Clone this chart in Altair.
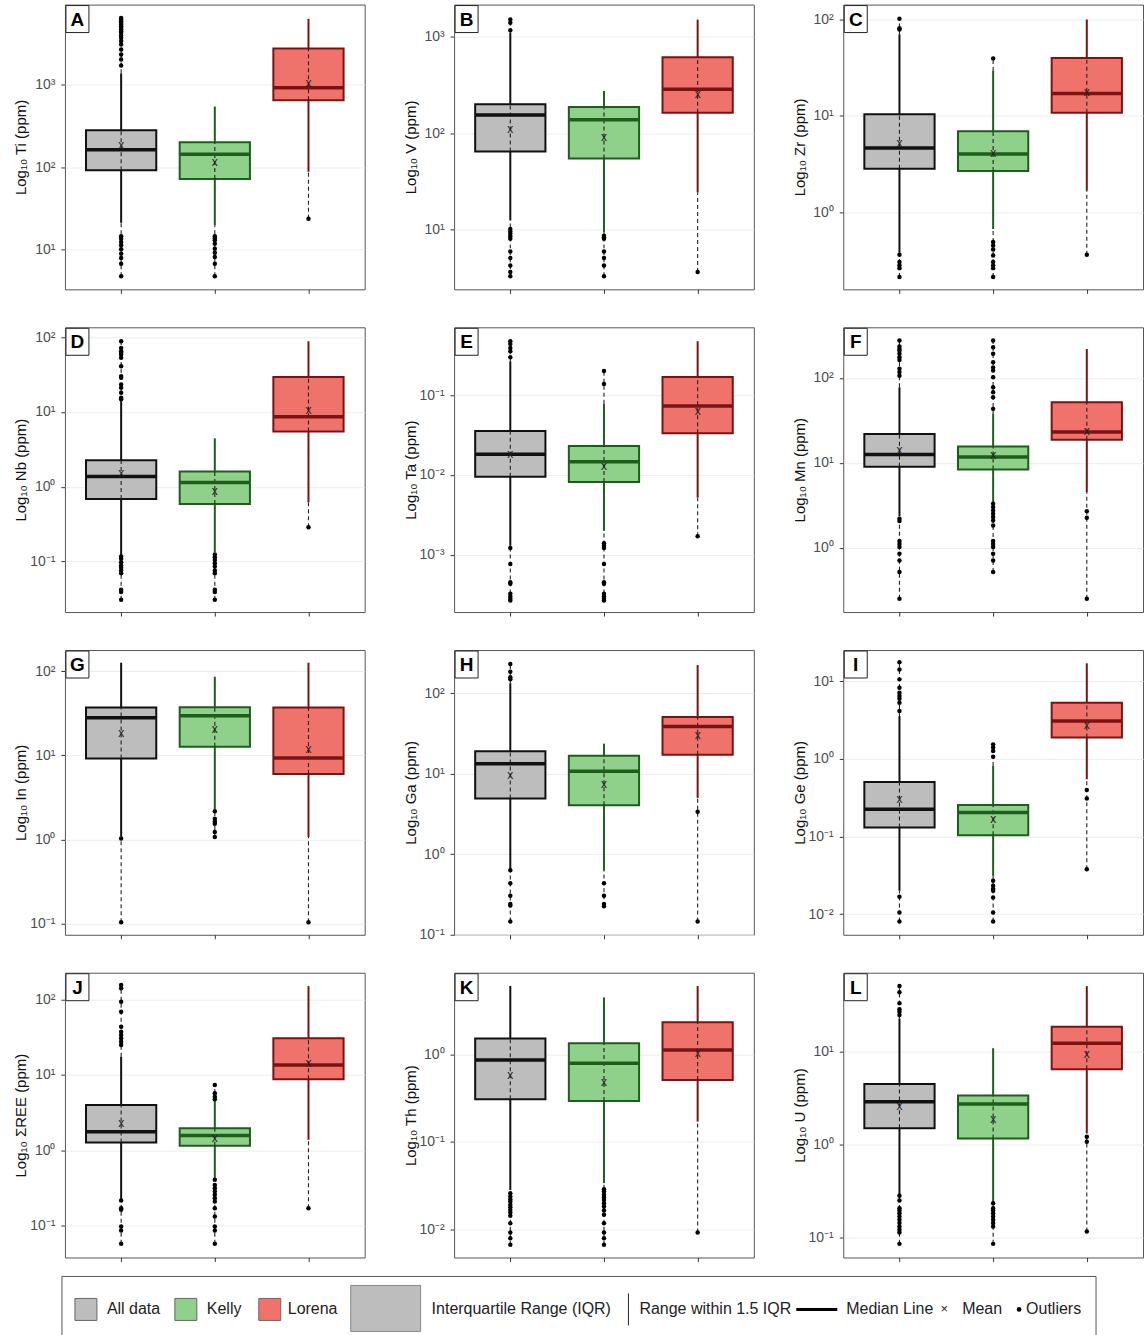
import math

import altair as alt
import pandas as pd

FONT = "Liberation Sans"

PANELS = list("ABCDEFGHIJKL")
ELEMENTS = ["Ti", "V", "Zr", "Nb", "Ta", "Mn", "In", "Ga", "Ge", "ΣREE", "Th", "U"]
GROUPS = ["All data", "Kelly", "Lorena"]

# y-axis extent of each panel, as log10 exponents (bottom, top)
Y_RANGE = [
    (0.52, 3.97), (0.384, 3.334), (-0.8, 2.155),
    (-1.676, 2.133), (-3.715, -0.152), (-0.757, 2.596),
    (-1.131, 2.25), (-1.003, 2.537), (-2.266, 1.399),
    (-1.419, 2.353), (-2.324, 0.933), (-1.219, 1.851),
]

# box statistics (ppm), one row per panel: [All data, Kelly, Lorena]
Q1 = [
    [91.6, 72, 647], [64.9, 55, 163], [2.83, 2.68, 10.8],
    [0.686, 0.587, 5.47], [0.0095, 0.0082, 0.0333], [8.98, 8.36, 18.7],
    [9.16, 12.6, 6.01], [4.92, 4.06, 17.2], [0.13, 0.1035, 1.87],
    [1.27, 1.15, 8.73], [0.306, 0.293, 0.509], [1.49, 1.16, 6.45],
]
MEDIAN = [
    [163, 143, 920], [155, 138, 286], [4.63, 4.01, 17.1],
    [1.37, 1.14, 8.67], [0.0182, 0.0146, 0.073], [12.5, 11.7, 23],
    [27.9, 29.5, 9.3], [13.3, 10.7, 38.6], [0.224, 0.203, 3.06],
    [1.77, 1.57, 13.5], [0.861, 0.789, 1.12], [2.89, 2.73, 12.3],
]
Q3 = [
    [281, 200, 2750], [200, 188, 616], [10.4, 6.93, 39.8],
    [2.27, 1.6, 29.3], [0.0356, 0.0231, 0.168], [21.9, 15.6, 51.8],
    [37, 37.3, 37], [19, 16.7, 50.5], [0.502, 0.254, 5.26],
    [4.0, 1.96, 30.5], [1.52, 1.34, 2.32], [4.49, 3.36, 18.6],
]
WHISKER_LOW = [
    [21.2, 19.7, 88], [12.5, 9.5, 24.5], [0.38, 0.67, 1.67],
    [0.12, 0.133, 0.618], [0.0013, 0.002, 0.0052], [2.35, 3.44, 4.52],
    [1.1, 2.3, 1.07], [0.65, 0.62, 5.0], [0.02, 0.031, 0.544],
    [0.225, 0.43, 1.38], [0.028, 0.0336, 0.17], [0.286, 0.242, 1.32],
]
WHISKER_HIGH = [
    [1370, 542, 6270], [1100, 275, 1510], [70, 29.3, 100],
    [14, 4.45, 88.4], [0.265, 0.078, 0.472], [77.6, 37.7, 219],
    [125.7, 85.6, 125.7], [133, 23.6, 224], [3.55, 0.807, 16.9],
    [17.4, 4.65, 150], [6.04, 4.48, 6.04], [22.8, 10.9, 50.9],
]
MEAN = [
    [185, 116, 1057], [110, 90.6, 258], [5.2, 4.07, 17.8],
    [1.51, 0.885, 10.6], [0.0182, 0.013, 0.064], [14, 12.4, 24],
    [18.5, 20.8, 12], [9.75, 7.33, 29.9], [0.301, 0.166, 2.69],
    [2.33, 1.45, 14.2], [0.581, 0.487, 1.03], [2.6, 1.87, 9.44],
]

# outliers (ppm) per panel
OUTLIERS_ALL = [
    [6440, 6150, 5880, 5600, 5350, 5100, 4870, 4650, 4440, 4250, 3940, 3690, 3370,
     3070, 2670, 2320, 2020, 1710, 14.6, 13.6, 12.4, 11.3, 10.1, 8.95, 7.93, 6.78, 4.77],
    [1172, 1396, 1511, 10.2, 9.6, 9.1, 8.6, 8.1, 5.97, 5.1, 4.28, 3.66, 3.3],
    [78.9, 81.1, 101.6, 0.362, 0.304, 0.281, 0.263, 0.213],
    [88.4, 72, 65, 61.8, 58.7, 53, 41, 30.2, 28.7, 23.4, 21.1, 18.1, 15.5, 14.8,
     0.117, 0.109, 0.098, 0.0885, 0.0824, 0.0759, 0.0699, 0.0419, 0.039, 0.0308],
    [0.298, 0.354, 0.389, 0.437, 0.472, 0.00122, 0.00077, 0.000456, 0.000435,
     0.000326, 0.000302, 0.000283, 0.000269],
    [275, 234, 219, 210, 192, 175, 163, 128, 117, 106, 2.19, 2.06, 1.2, 1.11, 1.02,
     0.85, 0.71, 0.518, 0.251],
    [1.03, 0.104],
    [149, 158, 185, 231, 0.63, 0.435, 0.303, 0.239, 0.229, 0.145],
    [4.11, 5.26, 5.93, 6.41, 7.08, 8.2, 10.5, 14.1, 17.5, 0.0167, 0.0105, 0.00803],
    [24.9, 27.5, 30.5, 33.7, 37.4, 43.5, 68.7, 93.1, 140, 155, 0.217, 0.171, 0.163,
     0.098, 0.0869, 0.0578],
    [0.0258, 0.0236, 0.022, 0.0207, 0.019, 0.0178, 0.0166, 0.0155, 0.0142, 0.0117,
     0.00916, 0.00789, 0.00662],
    [24.8, 27, 28.6, 33.2, 43.6, 51, 0.279, 0.248, 0.205, 0.194, 0.181, 0.167, 0.154,
     0.142, 0.13, 0.12, 0.112, 0.0847],
]
OUTLIERS_KELLY = [
    [14.6, 13.8, 13, 11.8, 10.3, 9.2, 8.15, 6.78, 4.77],
    [8.7, 8.4, 8.1, 5.97, 5.1, 4.28, 3.3],
    [39.5, 0.49, 0.452, 0.411, 0.356, 0.304, 0.281, 0.263, 0.213],
    [0.124, 0.114, 0.105, 0.095, 0.0857, 0.0759, 0.0699, 0.0419, 0.039, 0.0308],
    [0.138, 0.2, 0.0014, 0.0013, 0.00122, 0.00077, 0.000456, 0.000435, 0.000326,
     0.000302, 0.000283, 0.000269],
    [43.2, 59.3, 67.8, 77.6, 102, 122, 133, 153, 192, 230, 275, 3.3, 3.01, 2.75,
     2.51, 2.3, 2.1, 1.83, 1.2, 1.11, 1.02, 0.85, 0.71, 0.518],
    [2.16, 1.77, 1.64, 1.54, 1.23, 1.07],
    [0.435, 0.303, 0.239, 0.224],
    [1.06, 1.26, 1.39, 1.53, 0.0268, 0.0231, 0.021, 0.02, 0.0164, 0.0105, 0.00803],
    [7.35, 5.7, 5.15, 4.75, 0.407, 0.349, 0.315, 0.285, 0.258, 0.232, 0.21, 0.171,
     0.133, 0.098, 0.0869, 0.0578],
    [0.0286, 0.0269, 0.0247, 0.0232, 0.0216, 0.0198, 0.0182, 0.0163, 0.0146, 0.0117,
     0.00916, 0.00789, 0.00662],
    [0.232, 0.205, 0.194, 0.181, 0.167, 0.154, 0.142, 0.13, 0.0847],
]
OUTLIERS_LORENA = [
    [23.7], [3.66], [0.362], [0.287], [0.00171], [2.7, 2.25, 0.251],
    [0.104], [3.36, 0.145], [0.396, 0.307, 0.0378], [0.171], [0.00916],
    [1.21, 1.07, 0.115],
]

FILLS = ["#bdbdbd", "#8fd08a", "#f0736b"]
STROKES = ["#111111", "#1d5e1d", "#7a1414"]
BOX_HALF = 0.375

SUPERSCRIPT = {-3: "⁻³", -2: "⁻²", -1: "⁻¹", 0: "⁰", 1: "¹", 2: "²", 3: "³"}
EXPONENT = "round(log(datum.value) / LN10)"
LABEL_EXPR = "'10' + (" + " : ".join(
    f"{EXPONENT} == {k} ? '{v}'" for k, v in SUPERSCRIPT.items()
) + " : '')"

fill_enc = alt.Fill("group:N", scale=alt.Scale(domain=GROUPS, range=FILLS), legend=None)
stroke_enc = alt.Stroke("group:N", scale=alt.Scale(domain=GROUPS, range=STROKES), legend=None)


def panel(i):
    lo, hi = Y_RANGE[i]
    ticks = [10.0 ** k for k in range(math.ceil(lo - 1e-9), math.floor(hi + 1e-9) + 1)]
    outlier_sets = [OUTLIERS_ALL[i], OUTLIERS_KELLY[i], OUTLIERS_LORENA[i]]

    stats = pd.DataFrame({
        "group": GROUPS,
        "pos": [1, 2, 3],
        "q1": Q1[i], "med": MEDIAN[i], "q3": Q3[i],
        "wl": WHISKER_LOW[i], "wh": WHISKER_HIGH[i], "mean": MEAN[i],
    })
    stats["left"] = stats["pos"] - BOX_HALF
    stats["right"] = stats["pos"] + BOX_HALF
    stats["vmin"] = [min([w] + o) for w, o in zip(WHISKER_LOW[i], outlier_sets)]
    stats["vmax"] = [max([w] + o) for w, o in zip(WHISKER_HIGH[i], outlier_sets)]

    outliers = pd.DataFrame(
        [{"pos": g + 1, "value": v} for g, o in enumerate(outlier_sets) for v in o]
    )

    yscale = alt.Scale(type="log", domain=[10.0 ** lo, 10.0 ** hi], nice=False)
    xscale = alt.Scale(domain=[0.4, 3.6], nice=False, zero=False)
    yaxis = alt.Axis(
        values=ticks, labelExpr=LABEL_EXPR, title=f"Log₁₀ {ELEMENTS[i]} (ppm)",
        grid=True, gridColor="#ececec", domain=False, tickSize=4, tickColor="#333333",
        labelPadding=6, titlePadding=6, minExtent=30, maxExtent=30,
    )
    xaxis = alt.Axis(values=[1, 2, 3], labels=False, grid=False, domain=False,
                     tickSize=4, tickColor="#333333")

    def X(field):
        return alt.X(field, scale=xscale, axis=xaxis, title=None)

    def Y(field):
        return alt.Y(field, scale=yscale, axis=yaxis)

    base = alt.Chart(stats)
    dash = dict(strokeWidth=1.1, strokeDash=[4, 3], color="#222222")
    # dashed tails beyond the whiskers, out to the extreme values
    tail_lo = base.mark_rule(**dash).encode(x=X("pos:Q"), y=Y("vmin:Q"), y2="wl:Q")
    tail_hi = base.mark_rule(**dash).encode(x=X("pos:Q"), y=Y("wh:Q"), y2="vmax:Q")
    whisk_hi = base.mark_rule(strokeWidth=2).encode(
        x=X("pos:Q"), y=Y("q3:Q"), y2="wh:Q", stroke=stroke_enc)
    whisk_lo = base.mark_rule(strokeWidth=2).encode(
        x=X("pos:Q"), y=Y("wl:Q"), y2="q1:Q", stroke=stroke_enc)
    box = base.mark_rect(strokeWidth=2).encode(
        x=X("left:Q"), x2="right:Q", y=Y("q1:Q"), y2="q3:Q",
        fill=fill_enc, stroke=stroke_enc)
    inner = base.mark_rule(**dash).encode(x=X("pos:Q"), y=Y("q1:Q"), y2="q3:Q")
    median = base.mark_rule(strokeWidth=3.5).encode(
        x=X("left:Q"), x2="right:Q", y=Y("med:Q"), stroke=stroke_enc)
    mean = base.mark_text(text="x", fontSize=12, font=FONT, color="#222222",
                          baseline="middle").encode(x=X("pos:Q"), y=Y("mean:Q"))
    points = alt.Chart(outliers).mark_circle(size=20, color="#000000", opacity=1).encode(
        x=X("pos:Q"), y=Y("value:Q"))

    tag = alt.Chart(pd.DataFrame({"letter": [PANELS[i]]}))
    tag_box = tag.mark_rect(fill="white", stroke="#222222", strokeWidth=1).encode(
        x=alt.value(1), x2=alt.value(24), y=alt.value(1), y2=alt.value(28))
    tag_text = tag.mark_text(fontSize=19, fontWeight="bold", font=FONT, color="#000000",
                             align="center", baseline="middle").encode(
        x=alt.value(12.5), y=alt.value(15), text="letter:N")

    return alt.layer(tail_lo, tail_hi, whisk_hi, whisk_lo, box, inner, median, mean,
                     points, tag_box, tag_text).properties(width=300, height=285)


def legend():
    one = alt.Chart(pd.DataFrame({"k": [0]}))
    frame = dict(color="#555555", strokeWidth=1)
    layers = [
        one.mark_rule(**frame).encode(x=alt.value(-3), x2=alt.value(1032), y=alt.value(-19)),
        one.mark_rule(**frame).encode(x=alt.value(-3), y=alt.value(-19), y2=alt.value(40)),
        one.mark_rule(**frame).encode(x=alt.value(1032), y=alt.value(-19), y2=alt.value(40)),
    ]
    cy = 14
    swatches = [(10, FILLS[0]), (110, FILLS[1]), (194, FILLS[2])]
    for x0, f in swatches:
        layers.append(one.mark_rect(fill=f, stroke="#666666", strokeWidth=1).encode(
            x=alt.value(x0), x2=alt.value(x0 + 22), y=alt.value(cy - 11),
            y2=alt.value(cy + 11)))
    layers.append(one.mark_rect(fill=FILLS[0], stroke="#888888", strokeWidth=1).encode(
        x=alt.value(286), x2=alt.value(356), y=alt.value(cy - 24), y2=alt.value(cy + 22)))
    layers.append(one.mark_rule(color="#222222", strokeWidth=1).encode(
        x=alt.value(564), y=alt.value(cy - 16), y2=alt.value(cy + 16)))
    layers.append(one.mark_rule(color="#000000", strokeWidth=3).encode(
        x=alt.value(732), x2=alt.value(773), y=alt.value(cy)))
    layers.append(one.mark_text(text="×", fontSize=13, font=FONT, color="#222222",
                                align="center", baseline="middle").encode(
        x=alt.value(880), y=alt.value(cy)))
    layers.append(one.mark_circle(size=22, color="#000000", opacity=1).encode(
        x=alt.value(955), y=alt.value(cy)))
    labels = [(42, "All data"), (142, "Kelly"), (223, "Lorena"),
              (367, "Interquartile Range (IQR)"), (575, "Range within 1.5 IQR"),
              (782, "Median Line"), (898, "Mean"), (962, "Outliers")]
    for x0, t in labels:
        layers.append(one.mark_text(text=t, fontSize=16, font=FONT, color="#222222",
                                    align="left", baseline="middle").encode(
            x=alt.value(x0), y=alt.value(cy)))
    return alt.layer(*layers).properties(
        width=300, height=36, view=alt.ViewBackground(stroke="transparent"))


charts = [panel(i) for i in range(12)] + [legend()]

chart = alt.concat(
    *charts, columns=3, spacing={"row": 38, "column": 89.5}, bounds="flush"
).properties(
    padding={"left": 13, "top": 3, "right": 0, "bottom": 0},
    background="white",
).configure_view(
    stroke="#555555", strokeWidth=1,
).configure_axis(
    labelFont=FONT, titleFont=FONT, labelFontSize=14, labelColor="#4d4d4d",
    titleFontSize=15, titleColor="#111111", titleFontWeight="normal",
)

chart.save("out.html", embed_options={"renderer": "svg", "actions": False})
